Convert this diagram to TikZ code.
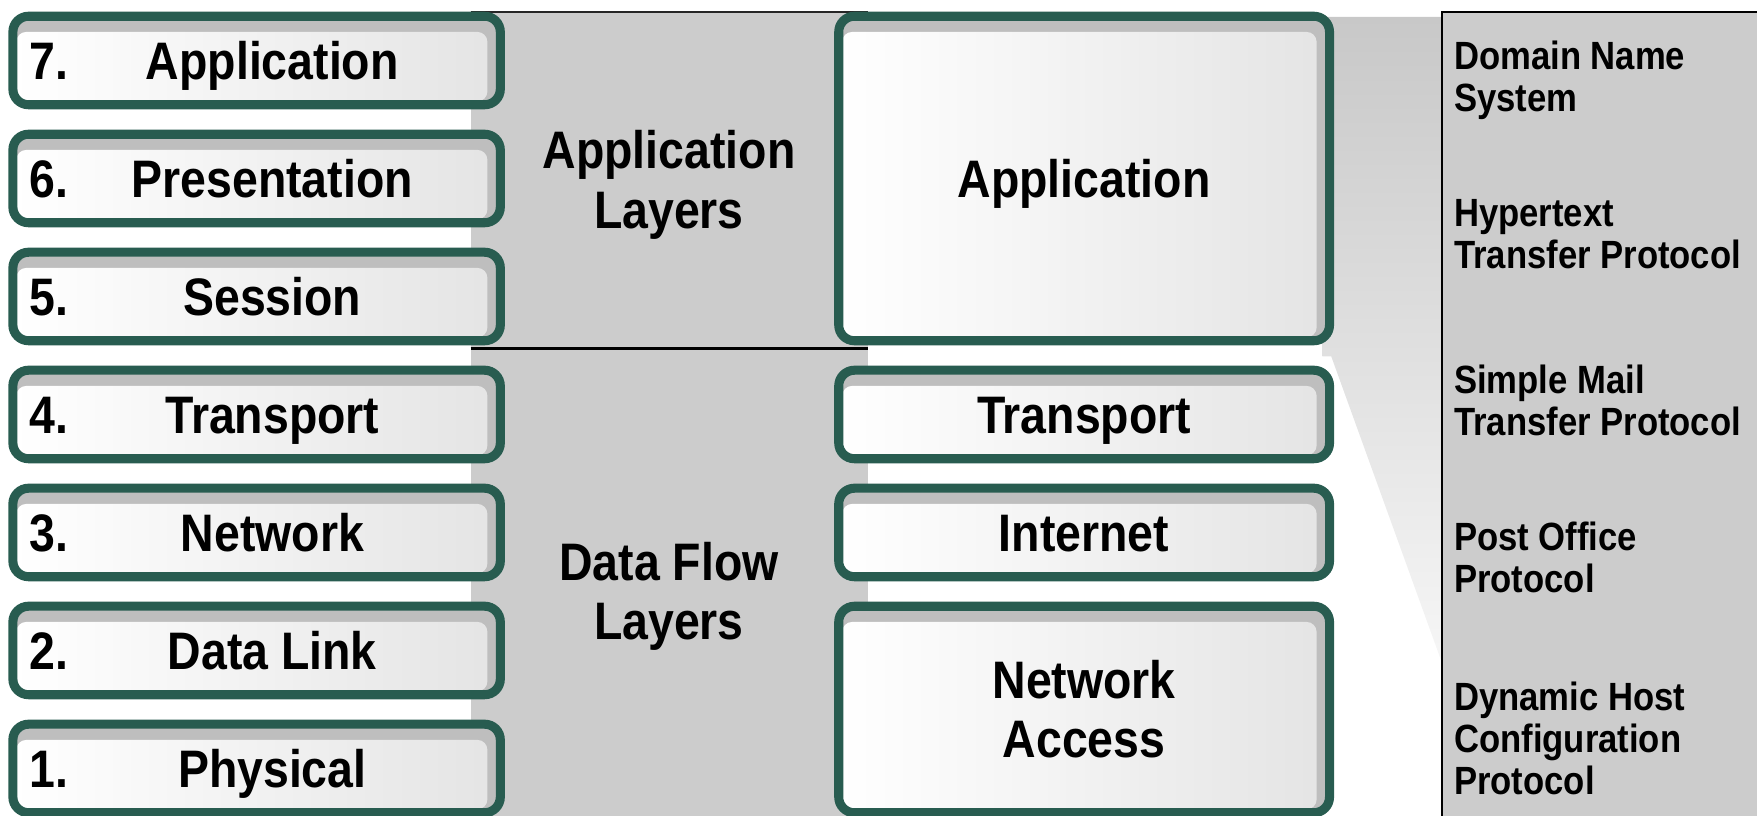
\documentclass[tikz,border=0pt]{standalone}
\usepackage{fontspec}
\usepackage{tikz}
\newfontfamily\labelfont{Liberation Sans}[FakeStretch=0.88]
\definecolor{boxgreen}{HTML}{285C50}
\definecolor{stripgray}{HTML}{BEBEBE}
\definecolor{boxshade}{HTML}{E4E4E4}
\definecolor{bandgray}{HTML}{CCCCCC}
\definecolor{wedgetop}{HTML}{C8C8C8}
\definecolor{wedgebottom}{HTML}{F6F6F6}
\tikzset{
	layer/.style={draw=boxgreen, line width=2.3pt, fill=stripgray, rounded corners=0.14cm, inner sep=0pt,
		path picture={\shade[left color=white, right color=boxshade, rounded corners=0.09cm]
			([xshift=0.03cm,yshift=0.03cm]path picture bounding box.south west) rectangle ([xshift=-0.115cm,yshift=-0.14cm]path picture bounding box.north east);}},
	osi/.style={layer, minimum width=4.35cm, minimum height=0.79cm},
	tcp/.style={layer, minimum width=4.38cm},
	bigtext/.style={font=\labelfont\bfseries\fontsize{13.4}{15}\selectfont, inner sep=0pt},
	capline/.style={text height=9.6pt, text depth=0pt},
	laynum/.style={bigtext, capline, anchor=west},
	layname/.style={bigtext, capline},
	proto/.style={font=\labelfont\bfseries\fontsize{10}{10.66}\selectfont, inner sep=0pt, anchor=north west, align=left},
}
\begin{document}
\begin{tikzpicture}[]
		\useasboundingbox (0,0) rectangle (15.68,7.28);
		\clip (0,0) rectangle (15.68,7.28);
		\fill[bandgray] (4.20,7.17) rectangle (7.75,-0.1);
		\draw[line width=0.6pt, black!85] (4.20,7.17) -- (7.75,7.17);
		\draw[line width=1pt] (4.20,4.17) -- (7.75,4.17);
		\shade[top color=wedgetop, bottom color=wedgebottom] (11.80,7.13) -- (12.87,7.13) -- (12.87,1.36) -- (11.88,4.10) -- (11.80,4.10) -- cycle;
		\draw[fill=bandgray, line width=0.6pt] (12.87,7.17) rectangle (16.2,-0.3);
		\node [osi] (l7) at (2.29,6.74) {};
		\node [osi] (l6) at (2.29,5.687) {};
		\node [osi] (l5) at (2.29,4.634) {};
		\node [osi] (l4) at (2.29,3.581) {};
		\node [osi] (l3) at (2.29,2.528) {};
		\node [osi] (l2) at (2.29,1.475) {};
		\node [osi] (l1) at (2.29,0.422) {};
		\node [laynum] (n7) at (0.26,6.74) {7.};
		\node [laynum] (n6) at (0.26,5.687) {6.};
		\node [laynum] (n5) at (0.26,4.634) {5.};
		\node [laynum] (n4) at (0.26,3.581) {4.};
		\node [laynum] (n3) at (0.26,2.528) {3.};
		\node [laynum] (n2) at (0.26,1.475) {2.};
		\node [laynum] (n1) at (0.26,0.422) {1.};
		\node [layname] (t7) at (2.43,6.74) {Application};
		\node [layname] (t6) at (2.43,5.687) {Presentation};
		\node [layname] (t5) at (2.43,4.634) {Session};
		\node [layname] (t4) at (2.43,3.581) {Transport};
		\node [layname] (t3) at (2.43,2.528) {Network};
		\node [layname] (t2) at (2.43,1.475) {Data Link};
		\node [layname] (t1) at (2.43,0.422) {Physical};
		\node [bigtext, align=center, anchor=north] (applayers) at (5.97,6.12) {Application\\Layers};
		\node [bigtext, align=center, anchor=north] (flowlayers) at (5.97,2.45) {Data Flow\\Layers};
		\node [tcp, bigtext, capline, minimum height=2.896cm] (tapp) at (9.675,5.687) {Application};
		\node [tcp, bigtext, capline, minimum height=0.79cm] (ttrans) at (9.675,3.581) {Transport};
		\node [tcp, bigtext, capline, minimum height=0.79cm] (tnet) at (9.675,2.528) {Internet};
		\node [tcp, bigtext, align=center, minimum height=1.843cm] (tacc) at (9.675,0.948) {Network\\Access};
		\node [proto] (dns) at (12.97,6.92) {Domain Name\\System};
		\node [proto] (http) at (12.97,5.51) {Hypertext\\Transfer Protocol};
		\node [proto] (smtp) at (12.97,4.03) {Simple Mail\\Transfer Protocol};
		\node [proto] (pop) at (12.97,2.63) {Post Office\\Protocol};
		\node [proto] (dhcp) at (12.97,1.20) {Dynamic Host\\Configuration\\Protocol};
		\end{tikzpicture}
\end{document}
